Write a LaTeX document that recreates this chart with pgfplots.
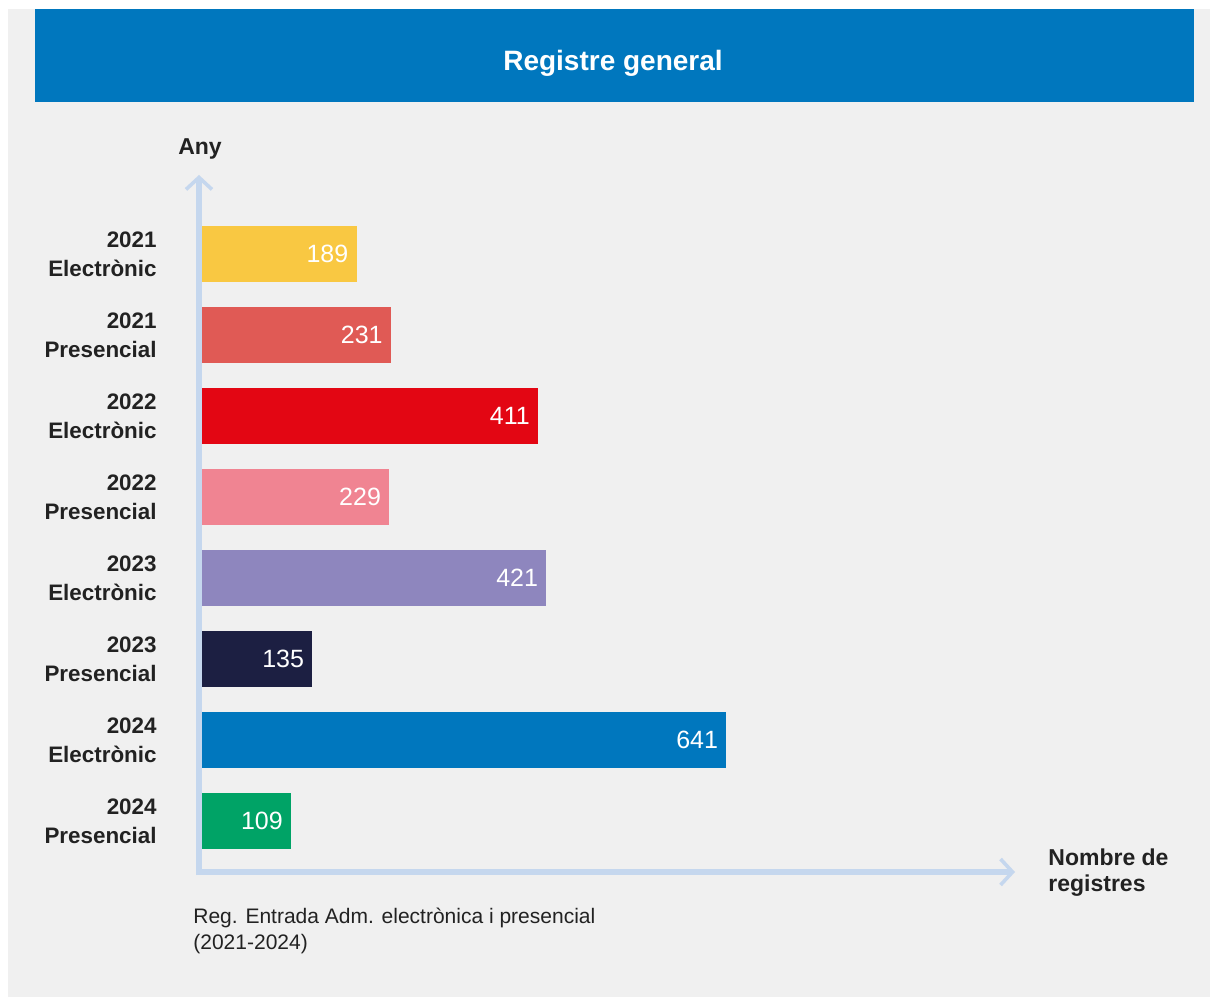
\documentclass[border=0pt]{standalone}
\usepackage{pgfplots}
\pgfplotsset{compat=1.18}
\usepackage{fontspec}
\setmainfont{Liberation Sans}
\usetikzlibrary{arrows.meta}

\definecolor{bg}{HTML}{F0F0F0}
\definecolor{titlebar}{HTML}{0077BE}
\definecolor{axisblue}{HTML}{C5D7EE}
\definecolor{txt}{HTML}{222222}
\definecolor{cA}{HTML}{F9C842}
\definecolor{cB}{HTML}{E05A55}
\definecolor{cC}{HTML}{E30613}
\definecolor{cD}{HTML}{F08492}
\definecolor{cE}{HTML}{8E86BE}
\definecolor{cF}{HTML}{1C1F42}
\definecolor{cG}{HTML}{0077BE}
\definecolor{cH}{HTML}{00A366}

\begin{document}
\begin{tikzpicture}
% page and panel (1px = 0.5pt)
\fill[white] (0,0) rectangle (605pt,498.5pt);
\fill[bg] (4pt,0) rectangle (605pt,494pt);
\fill[titlebar] (17.5pt,447.5pt) rectangle (597pt,494pt);
\node[text=white, font=\fontsize{14}{17}\selectfont\bfseries] at (306.5pt,467pt) {Registre general};

% axis arrows
\draw[axisblue, line width=2.75pt, -{Straight Barb[length=6pt, width=13pt, line width=1.8pt]}]
  (99.5pt,61pt) -- (99.5pt,411pt);
\draw[axisblue, line width=2.75pt, -{Straight Barb[length=6pt, width=13pt, line width=1.8pt]}]
  (98pt,62.5pt) -- (507.5pt,62.5pt);

\node[text=txt, font=\fontsize{11.5}{14}\selectfont\bfseries] at (100pt,424pt) {Any};
\node[text=txt, anchor=west, align=left, inner sep=0pt, font=\fontsize{11.5}{13}\selectfont\bfseries] at (524pt,62pt) {Nombre de\\registres};
\node[text=txt, anchor=west, align=left, inner sep=0pt, font=\fontsize{10.5}{13}\selectfont] at (96.5pt,33pt) {Reg. Entrada Adm. electrònica i presencial\\(2021-2024)};

\begin{axis}[
  at={(101pt,67.75pt)}, anchor=south west,
  scale only axis,
  width=263pt, height=324pt,
  xbar, bar width=0.68, bar shift=0pt,
  xmin=0, xmax=643,
  ymin=-0.5, ymax=7.5, y dir=reverse,
  axis line style={draw=none},
  xtick=\empty,
  ytick={0,...,7},
  major tick length=0pt,
  yticklabels={{2021\\Electrònic},{2021\\Presencial},{2022\\Electrònic},{2022\\Presencial},
               {2023\\Electrònic},{2023\\Presencial},{2024\\Electrònic},{2024\\Presencial}},
  yticklabel style={anchor=east, align=right, inner sep=0pt, xshift=-22.5pt,
    text=txt, font=\fontsize{11.2}{14.5}\selectfont\bfseries},
  clip=false,
  /pgf/number format/assume math mode=true,
  nodes near coords,
  every node near coord/.append style={anchor=east, xshift=-4pt, inner sep=0pt,
    text=white, font=\fontsize{12.5}{14}\selectfont},
]
\addplot[fill=cA, draw=none] coordinates {(189,0)};
\addplot[fill=cB, draw=none] coordinates {(231,1)};
\addplot[fill=cC, draw=none] coordinates {(411,2)};
\addplot[fill=cD, draw=none] coordinates {(229,3)};
\addplot[fill=cE, draw=none] coordinates {(421,4)};
\addplot[fill=cF, draw=none] coordinates {(135,5)};
\addplot[fill=cG, draw=none] coordinates {(641,6)};
\addplot[fill=cH, draw=none] coordinates {(109,7)};
\end{axis}
\end{tikzpicture}
\end{document}
